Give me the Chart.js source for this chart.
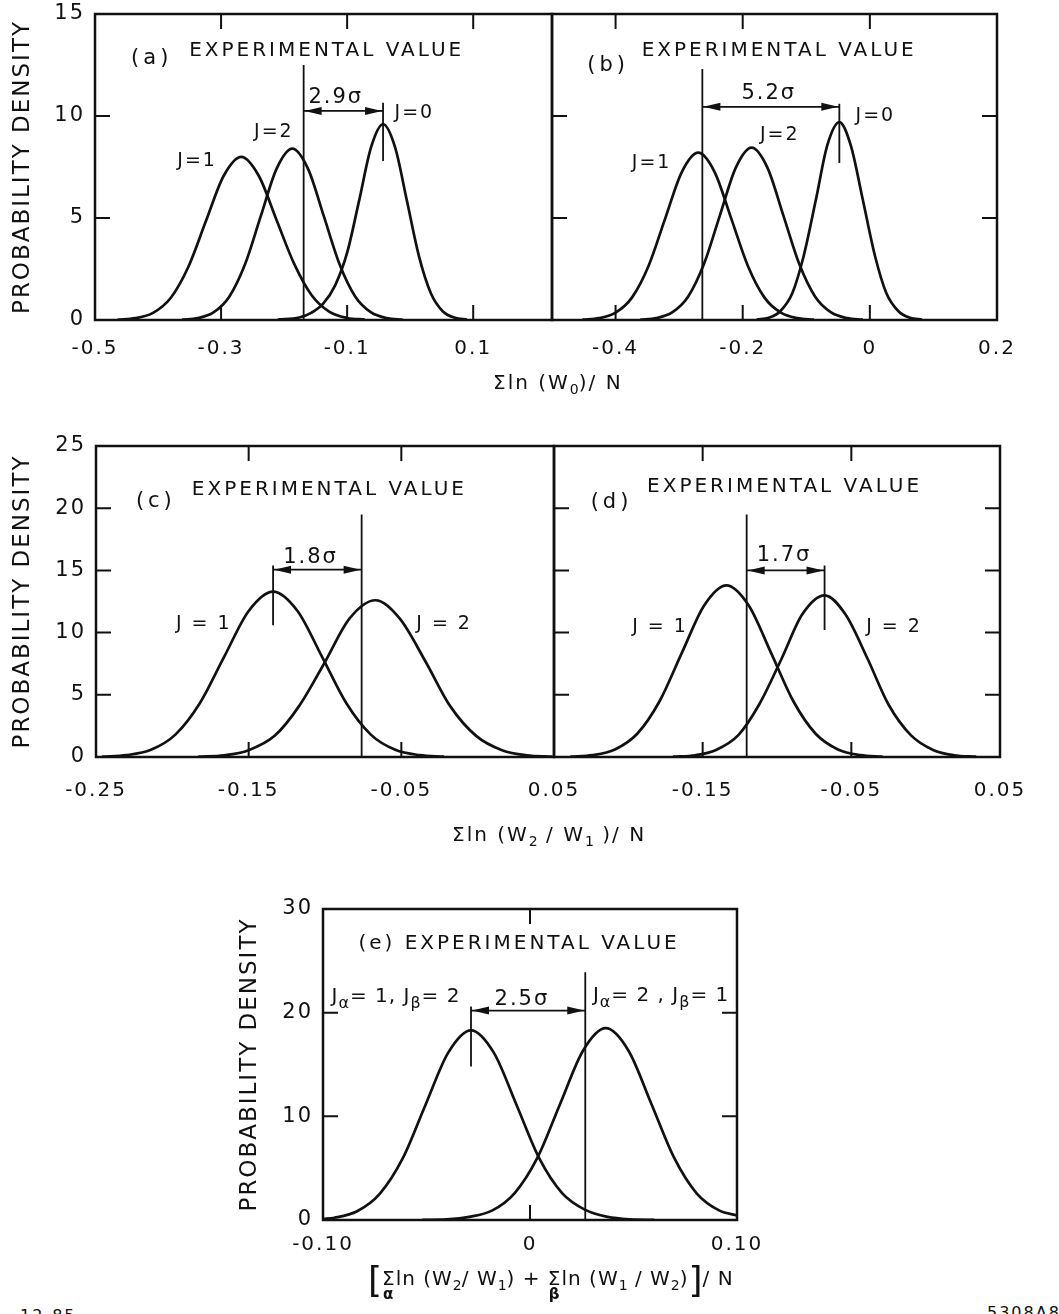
<!DOCTYPE html>
<html>
<head>
<meta charset="utf-8">
<script src="https://cdn.jsdelivr.net/npm/chart.js@4/dist/chart.umd.min.js"></script>
<style>
  body { margin: 0; background: #fff; width: 1059px; height: 1314px; position: relative; overflow: hidden;
         font-family: "DejaVu Sans", sans-serif; color: #111; }
  .box { position: absolute; }
  .xt { position: absolute; font-size: 20px; letter-spacing: 2px; white-space: nowrap; line-height: 1; }
  .xt sub { font-size: 14px; vertical-align: -5px; letter-spacing: 0; }
  .sg { position: relative; display: inline-block; }
  .sg i { position: absolute; left: 1px; top: 19px; font-size: 15px; font-style: normal; font-weight: bold; }
  .br { font-size: 36px; vertical-align: -7px; letter-spacing: 0; }
  .tag { position: absolute; font-size: 16px; letter-spacing: 2px; }
</style>
</head>
<body>
<div class="box" style="left:0;top:-12px;width:600px;height:432px"><canvas id="pa"></canvas></div>
<div class="box" style="left:540px;top:-12px;width:519px;height:432px"><canvas id="pb"></canvas></div>
<div class="box" style="left:0;top:420px;width:600px;height:420px"><canvas id="pc"></canvas></div>
<div class="box" style="left:540px;top:420px;width:519px;height:420px"><canvas id="pd"></canvas></div>
<div class="box" style="left:220px;top:880px;width:600px;height:434px"><canvas id="pe"></canvas></div>

<div class="xt" style="left:493px;top:372px">Σln (W<sub>0</sub>)/ N</div>
<div class="xt" style="left:452px;top:824px">Σln (W<sub>2</sub> / W<sub>1</sub> )/ N</div>
<div class="xt" style="left:368px;top:1262px;letter-spacing:1px"><span class="br">[</span><span class="sg">Σ<i>α</i></span>ln (W<sub>2</sub>/ W<sub>1</sub>) + <span class="sg">Σ<i>β</i></span>ln (W<sub>1</sub> / W<sub>2</sub>)<span class="br">]</span>/ N</div>
<div class="tag" style="left:20px;top:1306px">12-85</div>
<div class="tag" style="left:987px;top:1303px">5308A8</div>

<script>
// probability density curves, [x, density] pairs
// (a) Σ ln(W0)/N, first data set
const aJ1 = [[-0.464,0.02],[-0.436,0.09],[-0.408,0.35],[-0.380,1.08],[-0.352,2.60],[-0.324,4.85],[-0.296,7.06],[-0.268,8.0],
             [-0.240,7.06],[-0.212,4.9],[-0.184,2.75],[-0.156,1.2],[-0.128,0.4],[-0.100,0.1],[-0.072,0.02]];
const aJ2 = [[-0.362,0.02],[-0.337,0.09],[-0.312,0.37],[-0.287,1.14],[-0.262,2.73],[-0.237,5.09],[-0.212,7.41],[-0.187,8.4],
             [-0.162,7.41],[-0.137,5.09],[-0.112,2.73],[-0.087,1.14],[-0.062,0.37],[-0.037,0.09],[-0.012,0.02]];
const aJ0 = [[-0.210,0.02],[-0.176,0.12],[-0.157,0.35],[-0.138,0.8],[-0.119,1.7],[-0.100,3.3],[-0.081,5.85],[-0.062,8.47],
             [-0.043,9.6],[-0.024,8.47],[-0.005,5.82],[0.014,3.12],[0.033,1.30],[0.052,0.42],[0.071,0.11],[0.090,0.02]];
// (b) Σ ln(W0)/N, second data set
const bJ1 = [[-0.452,0.02],[-0.426,0.09],[-0.400,0.36],[-0.374,1.11],[-0.348,2.66],[-0.322,4.97],[-0.296,7.24],[-0.270,8.2],
             [-0.244,7.24],[-0.218,4.97],[-0.192,2.66],[-0.166,1.11],[-0.140,0.36],[-0.114,0.09],[-0.088,0.02]];
const bJ2 = [[-0.361,0.02],[-0.336,0.09],[-0.311,0.37],[-0.286,1.14],[-0.261,2.74],[-0.236,5.12],[-0.211,7.46],[-0.186,8.45],
             [-0.161,7.46],[-0.136,5.12],[-0.111,2.74],[-0.086,1.14],[-0.061,0.37],[-0.036,0.09],[-0.011,0.02]];
const bJ0 = [[-0.178,0.02],[-0.159,0.11],[-0.141,0.43],[-0.122,1.31],[-0.104,3.15],[-0.085,5.88],[-0.067,8.56],[-0.048,9.7],
             [-0.030,8.56],[-0.011,5.88],[0.008,3.15],[0.026,1.31],[0.045,0.43],[0.063,0.11],[0.082,0.02]];
// (c), (d) Σ ln(W2/W1)/N
const cJ1 = [[-0.246,0.03],[-0.230,0.15],[-0.214,0.58],[-0.198,1.80],[-0.182,4.32],[-0.166,8.07],[-0.150,11.74],[-0.134,13.3],
             [-0.118,11.74],[-0.102,8.07],[-0.086,4.32],[-0.070,1.80],[-0.054,0.58],[-0.038,0.15],[-0.022,0.03]];
const cJ2 = [[-0.183,0.03],[-0.166,0.14],[-0.150,0.55],[-0.133,1.70],[-0.117,4.09],[-0.100,7.64],[-0.084,11.12],[-0.067,12.6],
             [-0.051,11.12],[-0.034,7.64],[-0.018,4.09],[-0.001,1.70],[0.016,0.55],[0.032,0.14],[0.049,0.03]];
const dJ1 = [[-0.239,0.03],[-0.224,0.15],[-0.209,0.61],[-0.194,1.87],[-0.179,4.48],[-0.164,8.37],[-0.149,12.18],[-0.134,13.8],
             [-0.119,12.18],[-0.104,8.37],[-0.089,4.48],[-0.074,1.87],[-0.059,0.61],[-0.044,0.15],[-0.029,0.03]];
const dJ2 = [[-0.170,0.03],[-0.155,0.14],[-0.141,0.57],[-0.126,1.76],[-0.112,4.22],[-0.097,7.88],[-0.083,11.47],[-0.068,13.0],
             [-0.054,11.47],[-0.039,7.88],[-0.025,4.22],[-0.010,1.76],[0.005,0.57],[0.019,0.14],[0.034,0.03]];
// (e) combined statistic
const eA1B2 = [[-0.100,0.1],[-0.0945,0.22],[-0.0835,0.85],[-0.0725,2.55],[-0.0615,5.94],[-0.0505,11.10],[-0.0395,16.15],[-0.0285,18.3],
               [-0.0175,16.15],[-0.0065,11.10],[0.0045,5.94],[0.0155,2.6],[0.0265,1.0],[0.0375,0.3],[0.0485,0.06],[0.060,0.01]];
const eA2B1 = [[-0.052,0.01],[-0.0404,0.06],[-0.0294,0.3],[-0.0184,0.9],[-0.0074,2.6],[0.0036,6.01],[0.0146,11.22],[0.0256,16.33],
               [0.0366,18.5],[0.0476,16.33],[0.0586,11.22],[0.0696,6.01],[0.0806,2.55],[0.0916,0.9],[0.100,0.45]];

// experimental value, and the curve peak the separation is measured to (panels a..e)
const expValue   = [-0.169, -0.2635, -0.076, -0.1204, 0.0267];
const peakValue  = [-0.043, -0.048, -0.134, -0.068, -0.0285];
const sigmaLabel = ['2.9σ', '5.2σ', '1.8σ', '1.7σ', '2.5σ'];

// axis ticks and their labels
const xTicksA = [-0.5, -0.3, -0.1, 0.1],  xLabelsA = ['-0.5', '-0.3', '-0.1', '0.1'];
const xTicksB = [-0.4, -0.2, 0, 0.2],     xLabelsB = ['-0.4', '-0.2', '0', '0.2'];
const xTicksC = [-0.25, -0.15, -0.05, 0.05], xLabelsC = ['-0.25', '-0.15', '-0.05', '0.05'];
const xTicksD = [-0.15, -0.05, 0.05],     xLabelsD = ['-0.15', '-0.05', '0.05'];
const xTicksE = [-0.1, 0, 0.1],           xLabelsE = ['-0.10', '0', '0.10'];
const yTicksAB = [0, 5, 10, 15];
const yTicksCD = [0, 5, 10, 15, 20, 25];
const yTicksE = [0, 10, 20, 30];

const INK = '#111';
const FONT = '"DejaVu Sans", sans-serif';

// layout of each panel: axis ranges, inward tick marks, annotation placement
const panels = [
  { id: 'pa', curves: [aJ1, aJ2, aJ0], xr: [-0.5, 0.225], yr: [0, 15], xt: xTicksA, xl: xLabelsA, yt: yTicksAB,
    showY: true, yw: 95, pad: { top: 26, right: 48, bottom: 40, left: 0 }, titlePad: 9, tickPad: 17,
    xMarks: [-0.3, -0.1, 0.1], leftMarks: [5, 10], rightMarks: [],
    expTop: 12.5, mark: [7.8, 10.65], arrowY: 10.25, sigmaAt: [-0.118, 10.92],
    texts: [['(a)', -0.41, 12.8, 21, 'center', 4], ['EXPERIMENTAL VALUE', -0.3506, 13.2, 20, 'left', 3],
            ['J=0', 0.0067, 10.12, 19, 'center'], ['J=2', -0.2162, 9.23, 19, 'center'], ['J=1', -0.338, 7.81, 19, 'center']] },
  { id: 'pb', curves: [bJ1, bJ2, bJ0], xr: [-0.5, 0.2], yr: [0, 15], xt: xTicksB, xl: xLabelsB, yt: yTicksAB,
    showY: false, yw: 0, pad: { top: 26, right: 62, bottom: 40, left: 12 }, tickPad: 17,
    xMarks: [-0.4, -0.2, 0], leftMarks: [5, 10], rightMarks: [5, 10],
    expTop: 12.3, mark: [7.7, 10.6], arrowY: 10.45, sigmaAt: [-0.159, 11.11],
    texts: [['(b)', -0.4118, 12.48, 21, 'center', 4], ['EXPERIMENTAL VALUE', -0.359, 13.2, 20, 'left', 3],
            ['J=0', 0.0087, 10.02, 19, 'center'], ['J=2', -0.1417, 9.08, 19, 'center'], ['J=1', -0.3433, 7.70, 19, 'center']] },
  { id: 'pc', curves: [cJ1, cJ2], xr: [-0.25, 0.05], yr: [0, 25], xt: xTicksC, xl: xLabelsC, yt: yTicksCD,
    showY: true, yw: 96, pad: { top: 26, right: 46, bottom: 23, left: 0 }, titlePad: 9, tickPad: 22,
    xMarks: [-0.15, -0.05], leftMarks: [5, 10, 15, 20], rightMarks: [],
    expTop: 19.5, mark: [10.6, 15.4], arrowY: 15.06, sigmaAt: [-0.1095, 16.04],
    texts: [['(c)', -0.2108, 20.5, 21, 'center', 4], ['EXPERIMENTAL VALUE', -0.1872, 21.5, 20, 'left', 3],
            ['J = 1', -0.1794, 10.68, 19, 'center', 2], ['J = 2', -0.022, 10.68, 19, 'center', 2]] },
  { id: 'pd', curves: [dJ1, dJ2], xr: [-0.25, 0.05], yr: [0, 25], xt: xTicksD, xl: xLabelsD, yt: yTicksCD,
    showY: false, yw: 0, pad: { top: 26, right: 59, bottom: 23, left: 14 }, tickPad: 22,
    xMarks: [-0.15, -0.05], leftMarks: [5, 10, 15, 20], rightMarks: [5, 10, 15, 20],
    expTop: 19.5, mark: [10.2, 15.4], arrowY: 15.0, sigmaAt: [-0.0953, 16.19],
    texts: [['(d)', -0.2113, 20.45, 21, 'center', 4], ['EXPERIMENTAL VALUE', -0.1874, 21.7, 20, 'left', 3],
            ['J = 1', -0.1787, 10.45, 19, 'center', 2], ['J = 2', -0.0213, 10.45, 19, 'center', 2]] },
  { id: 'pe', curves: [eA1B2, eA2B1], xr: [-0.1, 0.1], yr: [0, 30], xt: xTicksE, xl: xLabelsE, yt: yTicksE,
    showY: true, yw: 103, pad: { top: 29, right: 83, bottom: 34, left: 0 }, titlePad: 16, tickPad: 13,
    xMarks: [0], leftMarks: [10, 20], rightMarks: [10, 20],
    expTop: 23.9, mark: [14.8, 20.6], arrowY: 20.2, sigmaAt: [-0.0039, 21.26],
    texts: [['(e) EXPERIMENTAL VALUE', -0.0829, 26.6, 20, 'left', 3]],
    runs: [[-0.0959, 21.55, [['J'], ['α', 1], ['= 1, J'], ['β', 1], ['= 2']]],
           [0.0304, 21.6, [['J'], ['α', 1], ['= 2 , J'], ['β', 1], ['= 1']]]] }
];

// frame, inward ticks, experimental-value line, separation arrow and labels
function notes(p, idx) {
  return {
    id: 'notes',
    beforeDraw(chart) { chart.ctx.letterSpacing = '2px'; },
    afterDatasetsDraw(chart) {
      const { ctx, chartArea: ca, scales: { x, y } } = chart;
      ctx.save();
      ctx.strokeStyle = INK; ctx.fillStyle = INK; ctx.lineCap = 'butt';
      ctx.lineWidth = 2.5;
      ctx.strokeRect(ca.left, ca.top, ca.right - ca.left, ca.bottom - ca.top);

      const TL = 15;
      ctx.lineWidth = 2;
      ctx.beginPath();
      p.xMarks.forEach(v => {
        const px = x.getPixelForValue(v);
        ctx.moveTo(px, ca.top); ctx.lineTo(px, ca.top + TL);
        ctx.moveTo(px, ca.bottom); ctx.lineTo(px, ca.bottom - TL);
      });
      p.leftMarks.forEach(v => { const py = y.getPixelForValue(v); ctx.moveTo(ca.left, py); ctx.lineTo(ca.left + TL, py); });
      p.rightMarks.forEach(v => { const py = y.getPixelForValue(v); ctx.moveTo(ca.right, py); ctx.lineTo(ca.right - TL, py); });
      ctx.stroke();

      const ex = x.getPixelForValue(expValue[idx]);
      const pk = x.getPixelForValue(peakValue[idx]);
      const ay = y.getPixelForValue(p.arrowY);
      ctx.lineWidth = 1.8;
      ctx.beginPath();
      ctx.moveTo(ex, y.getPixelForValue(0)); ctx.lineTo(ex, y.getPixelForValue(p.expTop));
      ctx.moveTo(pk, y.getPixelForValue(p.mark[0])); ctx.lineTo(pk, y.getPixelForValue(p.mark[1]));
      ctx.moveTo(ex, ay); ctx.lineTo(pk, ay);
      ctx.stroke();
      // arrow heads pointing out to the two vertical lines
      const head = (tipX, dir) => {
        ctx.beginPath();
        ctx.moveTo(tipX, ay);
        ctx.lineTo(tipX + dir * 17, ay - 4);
        ctx.lineTo(tipX + dir * 17, ay + 4);
        ctx.closePath(); ctx.fill();
      };
      const d = pk > ex ? 1 : -1;
      head(ex + d * 1, d); head(pk - d * 1, -d);

      ctx.textBaseline = 'middle';
      ctx.letterSpacing = '2px';
      ctx.font = '21px ' + FONT; ctx.textAlign = 'center';
      ctx.fillText(sigmaLabel[idx], x.getPixelForValue(p.sigmaAt[0]), y.getPixelForValue(p.sigmaAt[1]));

      p.texts.forEach(([t, vx, vy, size, align, ls]) => {
        ctx.font = size + 'px ' + FONT;
        ctx.textAlign = align;
        ctx.letterSpacing = (ls || 2) + 'px';
        ctx.fillText(t, x.getPixelForValue(vx), y.getPixelForValue(vy));
      });

      (p.runs || []).forEach(([vx, vy, parts]) => {
        let cx = x.getPixelForValue(vx);
        const cy = y.getPixelForValue(vy);
        ctx.textAlign = 'left';
        ctx.letterSpacing = '1px';
        parts.forEach(([t, sub]) => {
          ctx.font = (sub ? 16 : 20) + 'px ' + FONT;
          ctx.fillText(t, cx, sub ? cy + 7 : cy);
          cx += ctx.measureText(t).width;
        });
      });
      ctx.restore();
    }
  };
}

Chart.defaults.color = INK;
Chart.defaults.font.family = FONT;

panels.forEach((p, idx) => {
  new Chart(document.getElementById(p.id), {
    type: 'line',
    data: {
      datasets: p.curves.map(c => ({
        data: c.map(([x, y]) => ({ x, y })),
        borderColor: INK,
        borderWidth: 2.7,
        pointRadius: 0,
        cubicInterpolationMode: 'monotone',
        fill: false
      }))
    },
    options: {
      responsive: true,
      maintainAspectRatio: false,
      animation: false,
      events: [],
      layout: { padding: p.pad },
      plugins: { legend: { display: false }, tooltip: { enabled: false } },
      scales: {
        x: {
          type: 'linear', min: p.xr[0], max: p.xr[1],
          afterBuildTicks: s => { s.ticks = p.xt.map(v => ({ value: v })); },
          afterFit: s => { s.height = 60; },
          ticks: { callback: (v, i) => p.xl[i], padding: p.tickPad, color: INK, font: { size: 20 }, maxRotation: 0, autoSkip: false },
          grid: { display: false, drawTicks: false },
          border: { display: false }
        },
        y: {
          type: 'linear', min: p.yr[0], max: p.yr[1], display: p.showY,
          afterBuildTicks: s => { s.ticks = p.yt.map(v => ({ value: v })); },
          afterFit: s => { if (p.showY) s.width = p.yw; },
          ticks: { padding: 10, color: INK, font: { size: 21 } },
          title: { display: true, text: 'PROBABILITY DENSITY', color: INK, font: { size: 23 }, padding: { top: p.titlePad || 0, bottom: 0 } },
          grid: { display: false, drawTicks: false },
          border: { display: false }
        }
      }
    },
    plugins: [notes(p, idx)]
  });
});
</script>
</body>
</html>
